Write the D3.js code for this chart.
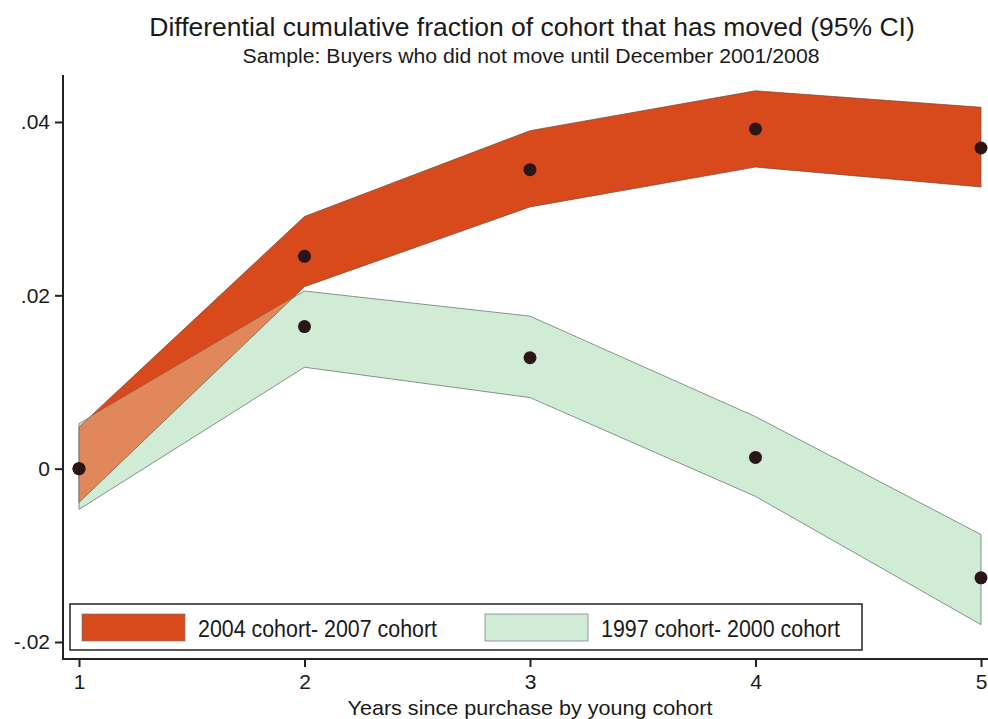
<!DOCTYPE html>
<html>
<head>
<meta charset="utf-8">
<script src="https://cdn.jsdelivr.net/npm/d3@7"></script>
<style>
  body { margin: 0; background: #fff; }
  text { font-family: "Liberation Sans", Arial, sans-serif; fill: #1a1a1a; }
</style>
</head>
<body>
<script>
// data
var years = [1, 2, 3, 4, 5];
var recentDiff = [0, 0.0245, 0.0345, 0.0392, 0.0370];
var recentLo   = [-0.0039, 0.0210, 0.0302, 0.0348, 0.0325];
var recentHi   = [0.0048, 0.0291, 0.0390, 0.0436, 0.0417];
var earlyDiff  = [0, 0.0164, 0.0128, 0.0013, -0.0126];
var earlyLo    = [-0.0047, 0.0117, 0.0082, -0.0032, -0.0180];
var earlyHi    = [0.0052, 0.0205, 0.0176, 0.0060, -0.0076];
var yTicks = [-0.02, 0, 0.02, 0.04];
var yTickLabels = ["-.02", "0", ".02", ".04"];
var seriesNames = ["2004 cohort- 2007 cohort", "1997 cohort- 2000 cohort"];

var width = 988, height = 719;
var orange = "#d8491c", mint = "#d0ecd4", overlap = "#e0875b";

var svg = d3.select("body").append("svg")
    .attr("width", width)
    .attr("height", height);

var x = d3.scaleLinear().domain([1, 5]).range([79, 981]);
var y = d3.scaleLinear().domain([-0.02, 0.04]).range([642, 122]);

var recent = years.map(function(d, i) { return {x: d, lo: recentLo[i], hi: recentHi[i], m: recentDiff[i]}; });
var early = years.map(function(d, i) { return {x: d, lo: earlyLo[i], hi: earlyHi[i], m: earlyDiff[i]}; });

var band = d3.area()
    .x(function(d) { return x(d.x); })
    .y0(function(d) { return y(d.lo); })
    .y1(function(d) { return y(d.hi); });

// clip for the part where the two bands overlap
svg.append("clipPath").attr("id", "earlyClip")
  .append("path").attr("d", band(early));

svg.append("path")
    .attr("d", band(recent))
    .style("fill", orange)
    .style("stroke", "#6b4a3a")
    .style("stroke-width", 0.7);

svg.append("path")
    .attr("d", band(early))
    .style("fill", mint)
    .style("stroke", "#5a6a5e")
    .style("stroke-width", 0.7);

svg.append("path")
    .attr("d", band(recent))
    .attr("clip-path", "url(#earlyClip)")
    .style("fill", overlap)
    .style("stroke", "#7a5a4a")
    .style("stroke-width", 0.7);

// point estimates
svg.selectAll(".pt")
    .data(recent.concat(early))
    .enter()
    .append("circle")
      .attr("cx", function(d) { return x(d.x); })
      .attr("cy", function(d) { return y(d.m); })
      .attr("r", 6.5)
      .style("fill", "#2a1616");

// axes
var axisColor = "#222";
svg.append("line").attr("x1", 63).attr("x2", 63).attr("y1", 75).attr("y2", 660)
    .style("stroke", axisColor).style("stroke-width", 2);
svg.append("line").attr("x1", 62).attr("x2", 988).attr("y1", 659).attr("y2", 659)
    .style("stroke", axisColor).style("stroke-width", 2);

var yAxis = svg.append("g")
    .attr("transform", "translate(63,0)")
    .call(d3.axisLeft(y).tickValues(yTicks).tickSize(8).tickPadding(5)
      .tickFormat(function(d, i) { return yTickLabels[i]; }));
yAxis.select(".domain").remove();

var xAxis = svg.append("g")
    .attr("transform", "translate(0,659)")
    .call(d3.axisBottom(x).tickValues(years).tickSize(8).tickPadding(7).tickFormat(d3.format("d")));
xAxis.select(".domain").remove();

svg.selectAll(".tick line").style("stroke", axisColor).style("stroke-width", 2);
svg.selectAll(".tick text")
    .style("font-family", "Liberation Sans, Arial, sans-serif")
    .style("font-size", "21px")
    .style("fill", "#1a1a1a");

// titles
svg.append("text")
    .attr("x", 532).attr("y", 36)
    .attr("text-anchor", "middle")
    .style("font-size", "26.5px")
    .text("Differential cumulative fraction of cohort that has moved (95% CI)");

svg.append("text")
    .attr("x", 531).attr("y", 63)
    .attr("text-anchor", "middle")
    .attr("textLength", 577)
    .attr("lengthAdjust", "spacingAndGlyphs")
    .style("font-size", "20px")
    .text("Sample: Buyers who did not move until December 2001/2008");

svg.append("text")
    .attr("x", 530).attr("y", 715)
    .attr("text-anchor", "middle")
    .attr("textLength", 365)
    .attr("lengthAdjust", "spacingAndGlyphs")
    .style("font-size", "21px")
    .text("Years since purchase by young cohort");

// legend
var legend = svg.append("g");
legend.append("rect")
    .attr("x", 70).attr("y", 604).attr("width", 792).attr("height", 46)
    .style("fill", "#fff").style("stroke", "#222").style("stroke-width", 1.5);

var legendX = [82, 485];
var legendColors = [orange, mint];
seriesNames.forEach(function(name, i) {
  legend.append("rect")
      .attr("x", legendX[i]).attr("y", 614).attr("width", 103).attr("height", 27)
      .style("fill", legendColors[i]).style("stroke", "#777").style("stroke-width", 0.7);
  legend.append("text")
      .attr("x", legendX[i] + 116).attr("y", 637)
      .attr("textLength", 239)
      .attr("lengthAdjust", "spacingAndGlyphs")
      .style("font-size", "23px")
      .text(name);
});
</script>
</body>
</html>
